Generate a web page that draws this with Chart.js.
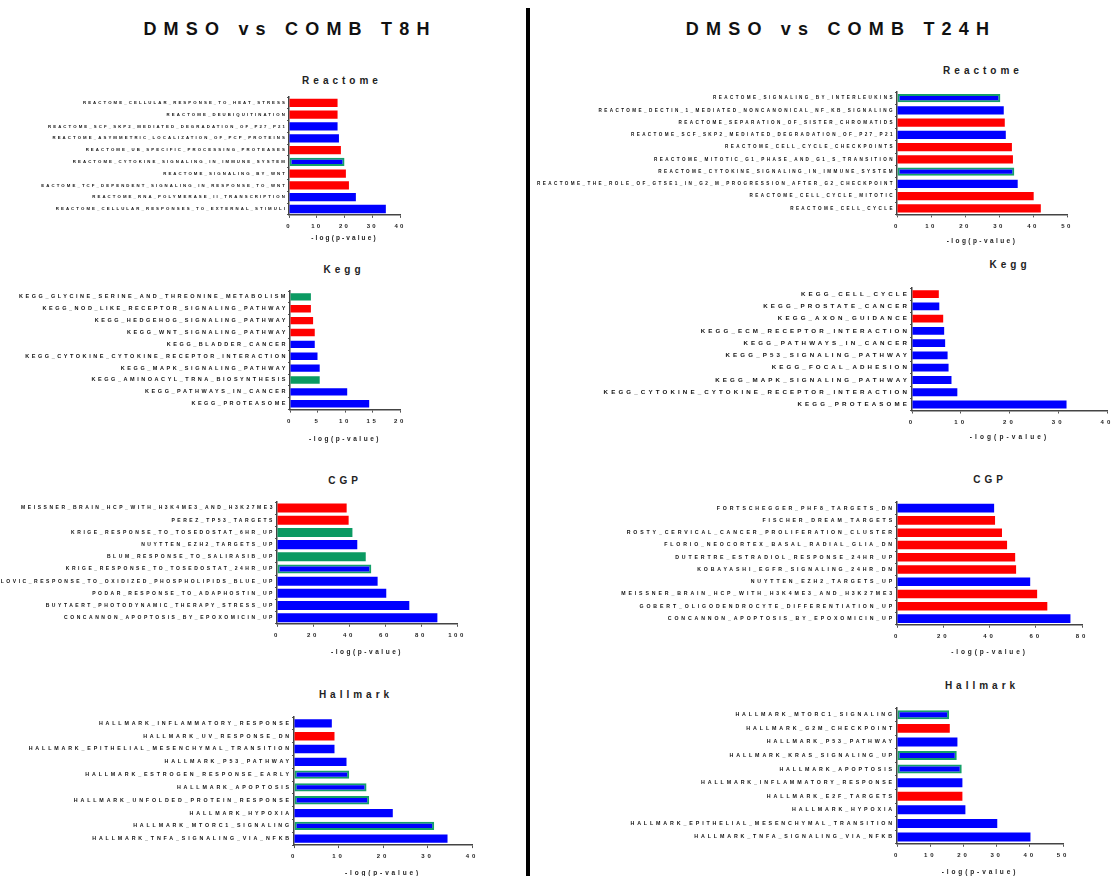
<!DOCTYPE html>
<html>
<head>
<meta charset="utf-8">
<script src="https://cdn.jsdelivr.net/npm/chart.js@4.4.1/dist/chart.umd.min.js"></script>
<style>
  html, body { margin: 0; padding: 0; background: #fff; width: 1112px; height: 876px; overflow: hidden; }
  body { position: relative; font-family: "Liberation Sans", Arial, sans-serif; }
  .heading { position: absolute; font-weight: bold; font-size: 18px; letter-spacing: 7.2px; transform: translate(-50%, -50%); white-space: nowrap; color: #111; }
  .panel-title { position: absolute; font-weight: bold; font-size: 10px; letter-spacing: 4px; transform: translate(-50%, -50%); white-space: nowrap; color: #222; }
  .divider { position: absolute; left: 526px; top: 8px; width: 4px; height: 868px; background: #000; }
  canvas { position: absolute; }
</style>
</head>
<body>
<div class="heading" style="left:290px; top:29px">DMSO vs COMB T8H</div>
<div class="heading" style="left:841px; top:29px">DMSO vs COMB T24H</div>
<div class="divider"></div>

<script>
// ---- DMSO vs COMB T8H ----
const t8ReactomeLabels = [
  'REACTOME_CELLULAR_RESPONSE_TO_HEAT_STRESS',
  'REACTOME_DEUBIQUITINATION',
  'REACTOME_SCF_SKP2_MEDIATED_DEGRADATION_OF_P27_P21',
  'REACTOME_ASYMMETRIC_LOCALIZATION_OF_PCP_PROTEINS',
  'REACTOME_UB_SPECIFIC_PROCESSING_PROTEASES',
  'REACTOME_CYTOKINE_SIGNALING_IN_IMMUNE_SYSTEM',
  'REACTOME_SIGNALING_BY_WNT',
  'REACTOME_TCF_DEPENDENT_SIGNALING_IN_RESPONSE_TO_WNT',
  'REACTOME_RNA_POLYMERASE_II_TRANSCRIPTION',
  'REACTOME_CELLULAR_RESPONSES_TO_EXTERNAL_STIMULI'
];
const t8ReactomeValues = [17.5, 17.5, 17.5, 18.0, 18.7, 20.0, 20.5, 21.6, 24.1, 34.9];
const t8ReactomeGroups = ['up', 'up', 'down', 'down', 'up', 'downShared', 'up', 'up', 'down', 'down'];
const t8ReactomeTicks = [0, 10, 20, 30, 40];

const t8KeggLabels = [
  'KEGG_GLYCINE_SERINE_AND_THREONINE_METABOLISM',
  'KEGG_NOD_LIKE_RECEPTOR_SIGNALING_PATHWAY',
  'KEGG_HEDGEHOG_SIGNALING_PATHWAY',
  'KEGG_WNT_SIGNALING_PATHWAY',
  'KEGG_BLADDER_CANCER',
  'KEGG_CYTOKINE_CYTOKINE_RECEPTOR_INTERACTION',
  'KEGG_MAPK_SIGNALING_PATHWAY',
  'KEGG_AMINOACYL_TRNA_BIOSYNTHESIS',
  'KEGG_PATHWAYS_IN_CANCER',
  'KEGG_PROTEASOME'
];
const t8KeggValues = [3.8, 3.8, 4.2, 4.5, 4.5, 5.0, 5.4, 5.4, 10.4, 14.4];
const t8KeggGroups = ['shared', 'up', 'up', 'up', 'down', 'down', 'down', 'shared', 'down', 'down'];
const t8KeggTicks = [0, 5, 10, 15, 20];

const t8CgpLabels = [
  'MEISSNER_BRAIN_HCP_WITH_H3K4ME3_AND_H3K27ME3',
  'PEREZ_TP53_TARGETS',
  'KRIGE_RESPONSE_TO_TOSEDOSTAT_6HR_UP',
  'NUYTTEN_EZH2_TARGETS_UP',
  'BLUM_RESPONSE_TO_SALIRASIB_UP',
  'KRIGE_RESPONSE_TO_TOSEDOSTAT_24HR_UP',
  'GARGALOVIC_RESPONSE_TO_OXIDIZED_PHOSPHOLIPIDS_BLUE_UP',
  'PODAR_RESPONSE_TO_ADAPHOSTIN_UP',
  'BUYTAERT_PHOTODYNAMIC_THERAPY_STRESS_UP',
  'CONCANNON_APOPTOSIS_BY_EPOXOMICIN_UP'
];
const t8CgpValues = [38.7, 39.8, 41.9, 44.6, 49.3, 52.4, 55.9, 60.7, 73.5, 89.1];
const t8CgpGroups = ['up', 'up', 'shared', 'down', 'shared', 'downShared', 'down', 'down', 'down', 'down'];
const t8CgpTicks = [0, 20, 40, 60, 80, 100];

const t8HallmarkLabels = [
  'HALLMARK_INFLAMMATORY_RESPONSE',
  'HALLMARK_UV_RESPONSE_DN',
  'HALLMARK_EPITHELIAL_MESENCHYMAL_TRANSITION',
  'HALLMARK_P53_PATHWAY',
  'HALLMARK_ESTROGEN_RESPONSE_EARLY',
  'HALLMARK_APOPTOSIS',
  'HALLMARK_UNFOLDED_PROTEIN_RESPONSE',
  'HALLMARK_HYPOXIA',
  'HALLMARK_MTORC1_SIGNALING',
  'HALLMARK_TNFA_SIGNALING_VIA_NFKB'
];
const t8HallmarkValues = [8.5, 9.1, 9.1, 11.8, 12.4, 16.3, 16.9, 22.2, 31.5, 34.5];
const t8HallmarkGroups = ['down', 'up', 'down', 'down', 'downShared', 'downShared', 'downShared', 'down', 'downShared', 'down'];
const t8HallmarkTicks = [0, 10, 20, 30, 40];

// ---- DMSO vs COMB T24H ----
const t24ReactomeLabels = [
  'REACTOME_SIGNALING_BY_INTERLEUKINS',
  'REACTOME_DECTIN_1_MEDIATED_NONCANONICAL_NF_KB_SIGNALING',
  'REACTOME_SEPARATION_OF_SISTER_CHROMATIDS',
  'REACTOME_SCF_SKP2_MEDIATED_DEGRADATION_OF_P27_P21',
  'REACTOME_CELL_CYCLE_CHECKPOINTS',
  'REACTOME_MITOTIC_G1_PHASE_AND_G1_S_TRANSITION',
  'REACTOME_CYTOKINE_SIGNALING_IN_IMMUNE_SYSTEM',
  'REACTOME_THE_ROLE_OF_GTSE1_IN_G2_M_PROGRESSION_AFTER_G2_CHECKPOINT',
  'REACTOME_CELL_CYCLE_MITOTIC',
  'REACTOME_CELL_CYCLE'
];
const t24ReactomeValues = [30.4, 31.4, 31.7, 32.0, 33.8, 34.1, 34.5, 35.5, 40.2, 42.3];
const t24ReactomeGroups = ['downShared', 'down', 'up', 'down', 'up', 'up', 'downShared', 'down', 'up', 'up'];
const t24ReactomeTicks = [0, 10, 20, 30, 40, 50];

const t24KeggLabels = [
  'KEGG_CELL_CYCLE',
  'KEGG_PROSTATE_CANCER',
  'KEGG_AXON_GUIDANCE',
  'KEGG_ECM_RECEPTOR_INTERACTION',
  'KEGG_PATHWAYS_IN_CANCER',
  'KEGG_P53_SIGNALING_PATHWAY',
  'KEGG_FOCAL_ADHESION',
  'KEGG_MAPK_SIGNALING_PATHWAY',
  'KEGG_CYTOKINE_CYTOKINE_RECEPTOR_INTERACTION',
  'KEGG_PROTEASOME'
];
const t24KeggValues = [5.5, 5.6, 6.4, 6.6, 6.8, 7.3, 7.5, 8.1, 9.3, 31.7];
const t24KeggGroups = ['up', 'down', 'up', 'down', 'down', 'down', 'down', 'down', 'down', 'down'];
const t24KeggTicks = [0, 10, 20, 30, 40];

const t24CgpLabels = [
  'FORTSCHEGGER_PHF8_TARGETS_DN',
  'FISCHER_DREAM_TARGETS',
  'ROSTY_CERVICAL_CANCER_PROLIFERATION_CLUSTER',
  'FLORIO_NEOCORTEX_BASAL_RADIAL_GLIA_DN',
  'DUTERTRE_ESTRADIOL_RESPONSE_24HR_UP',
  'KOBAYASHI_EGFR_SIGNALING_24HR_DN',
  'NUYTTEN_EZH2_TARGETS_UP',
  'MEISSNER_BRAIN_HCP_WITH_H3K4ME3_AND_H3K27ME3',
  'GOBERT_OLIGODENDROCYTE_DIFFERENTIATION_UP',
  'CONCANNON_APOPTOSIS_BY_EPOXOMICIN_UP'
];
const t24CgpValues = [42.0, 42.4, 45.4, 47.6, 51.1, 51.5, 57.6, 60.6, 65.0, 75.0];
const t24CgpGroups = ['down', 'up', 'up', 'up', 'up', 'up', 'down', 'up', 'up', 'down'];
const t24CgpTicks = [0, 20, 40, 60, 80];

const t24HallmarkLabels = [
  'HALLMARK_MTORC1_SIGNALING',
  'HALLMARK_G2M_CHECKPOINT',
  'HALLMARK_P53_PATHWAY',
  'HALLMARK_KRAS_SIGNALING_UP',
  'HALLMARK_APOPTOSIS',
  'HALLMARK_INFLAMMATORY_RESPONSE',
  'HALLMARK_E2F_TARGETS',
  'HALLMARK_HYPOXIA',
  'HALLMARK_EPITHELIAL_MESENCHYMAL_TRANSITION',
  'HALLMARK_TNFA_SIGNALING_VIA_NFKB'
];
const t24HallmarkValues = [15.7, 15.9, 18.2, 18.0, 19.5, 19.7, 19.7, 20.6, 30.2, 40.2];
const t24HallmarkGroups = ['downShared', 'up', 'down', 'downShared', 'downShared', 'down', 'up', 'down', 'down', 'down'];
const t24HallmarkTicks = [0, 10, 20, 30, 40, 50];

// couleurs des barres selon le groupe
const FILL = { up: '#ff0000', down: '#0000ff', shared: '#0b9a62', downShared: '#0000ff' };
const EDGE = '#14a06a';
const FONT = '"Liberation Sans", Arial, sans-serif';

// placement de chaque panneau (pixels de la page)
const panels = [
  { name: 'Reactome', labels: t8ReactomeLabels, values: t8ReactomeValues, groups: t8ReactomeGroups, ticks: t8ReactomeTicks,
    left: 41, axisX: 289, maxX: 400, firstC: 103, axisY: 215, titleC: 238, size: 4.3, spacing: 2.1, barPct: 0.7, headX: 342, headY: 79.5 },
  { name: 'Kegg', labels: t8KeggLabels, values: t8KeggValues, groups: t8KeggGroups, ticks: t8KeggTicks,
    left: 0, axisX: 290, maxX: 400, firstC: 297.3, axisY: 410, titleC: 439, size: 5.5, spacing: 2.55, barPct: 0.62, headX: 344, headY: 269 },
  { name: 'CGP', labels: t8CgpLabels, values: t8CgpValues, groups: t8CgpGroups, ticks: t8CgpTicks,
    left: 0, axisX: 277, maxX: 457, firstC: 508.3, axisY: 624, titleC: 652, size: 5.0, spacing: 2.55, barPct: 0.74, headX: 345, headY: 480 },
  { name: 'Hallmark', labels: t8HallmarkLabels, values: t8HallmarkValues, groups: t8HallmarkGroups, ticks: t8HallmarkTicks,
    left: 0, axisX: 294, maxX: 472, firstC: 723.3, axisY: 845, titleC: 873, size: 5.3, spacing: 2.85, barPct: 0.65, headX: 356, headY: 694 },
  { name: 'Reactome', labels: t24ReactomeLabels, values: t24ReactomeValues, groups: t24ReactomeGroups, ticks: t24ReactomeTicks,
    left: 532, axisX: 897, maxX: 1067, firstC: 97.7, axisY: 214, titleC: 241, size: 4.6, spacing: 2.42, barPct: 0.68, headX: 983, headY: 70 },
  { name: 'Kegg', labels: t24KeggLabels, values: t24KeggValues, groups: t24KeggGroups, ticks: t24KeggTicks,
    left: 532, axisX: 912, maxX: 1107, firstC: 294.3, axisY: 410.7, titleC: 437, size: 6.2, spacing: 3.12, barPct: 0.65, headX: 1010, headY: 264 },
  { name: 'CGP', labels: t24CgpLabels, values: t24CgpValues, groups: t24CgpGroups, ticks: t24CgpTicks,
    left: 532, axisX: 897, maxX: 1082, firstC: 507.7, axisY: 624.3, titleC: 651.7, size: 5.2, spacing: 2.88, barPct: 0.7, headX: 990, headY: 479 },
  { name: 'Hallmark', labels: t24HallmarkLabels, values: t24HallmarkValues, groups: t24HallmarkGroups, ticks: t24HallmarkTicks,
    left: 532, axisX: 897, maxX: 1063, firstC: 715, axisY: 844, titleC: 872.7, size: 5.3, spacing: 2.88, barPct: 0.66, headX: 982, headY: 685 }
];

// espacement des lettres sur le canvas (le texte d'origine est très espacé)
const letterSpacingPlugin = {
  id: 'letterSpacing',
  beforeDraw(chart, args, opts) {
    chart.ctx.letterSpacing = (opts.value || 0) + 'px';
  }
};

function buildPanel(p) {
  const titleSize = 6.5;
  const lineH = titleSize * 1.2;
  const slot = (p.axisY - p.firstC) / 9.5;
  const areaTop = p.firstC - slot / 2;
  const padTop = 4;
  const padRight = 14;
  const top = areaTop - padTop;
  const height = Math.round(p.titleC + lineH / 2 - top);
  const width = Math.round(p.maxX - p.left + padRight);
  const xAxisHeight = height - (p.axisY - top);

  const head = document.createElement('div');
  head.className = 'panel-title';
  head.style.left = p.headX + 'px';
  head.style.top = p.headY + 'px';
  head.textContent = p.name;
  document.body.appendChild(head);

  const canvas = document.createElement('canvas');
  canvas.width = width;
  canvas.height = height;
  canvas.style.left = p.left + 'px';
  canvas.style.top = top + 'px';
  document.body.appendChild(canvas);

  const ticks = p.ticks;
  return new Chart(canvas.getContext('2d'), {
    type: 'bar',
    data: {
      labels: p.labels,
      datasets: [{
        data: p.values,
        backgroundColor: p.groups.map(g => FILL[g]),
        borderColor: EDGE,
        borderWidth: p.groups.map(g => g === 'downShared' ? 2 : 0),
        borderSkipped: false,
        barPercentage: p.barPct,
        categoryPercentage: 1
      }]
    },
    options: {
      indexAxis: 'y',
      responsive: false,
      animation: false,
      devicePixelRatio: 1,
      layout: { padding: { top: padTop, right: padRight, bottom: 0, left: 0 } },
      plugins: {
        legend: { display: false },
        tooltip: { enabled: false },
        letterSpacing: { value: p.spacing }
      },
      scales: {
        x: {
          min: ticks[0],
          max: ticks[ticks.length - 1],
          afterBuildTicks(scale) { scale.ticks = ticks.map(v => ({ value: v })); },
          ticks: { color: '#222', padding: 5, maxRotation: 0, autoSkip: false,
                   font: { family: FONT, size: 6, weight: 'bold' } },
          grid: { drawOnChartArea: false, drawTicks: true, tickLength: 3, color: '#555', lineWidth: 1 },
          border: { color: '#444', width: 1.5 },
          title: { display: true, text: '-log(p-value)', color: '#222', padding: 0,
                   font: { family: FONT, size: titleSize, weight: 'bold' } },
          afterFit(scale) { scale.height = xAxisHeight; }
        },
        y: {
          ticks: { color: '#111', padding: 0, autoSkip: false,
                   font: { family: FONT, size: p.size, weight: 'bold' } },
          grid: { drawOnChartArea: false, drawTicks: true, tickLength: 2, color: '#555' },
          border: { color: '#444', width: 1.5 },
          afterFit(scale) { scale.width = p.axisX - p.left; }
        }
      }
    },
    plugins: [letterSpacingPlugin]
  });
}

panels.forEach(buildPanel);
</script>
</body>
</html>
